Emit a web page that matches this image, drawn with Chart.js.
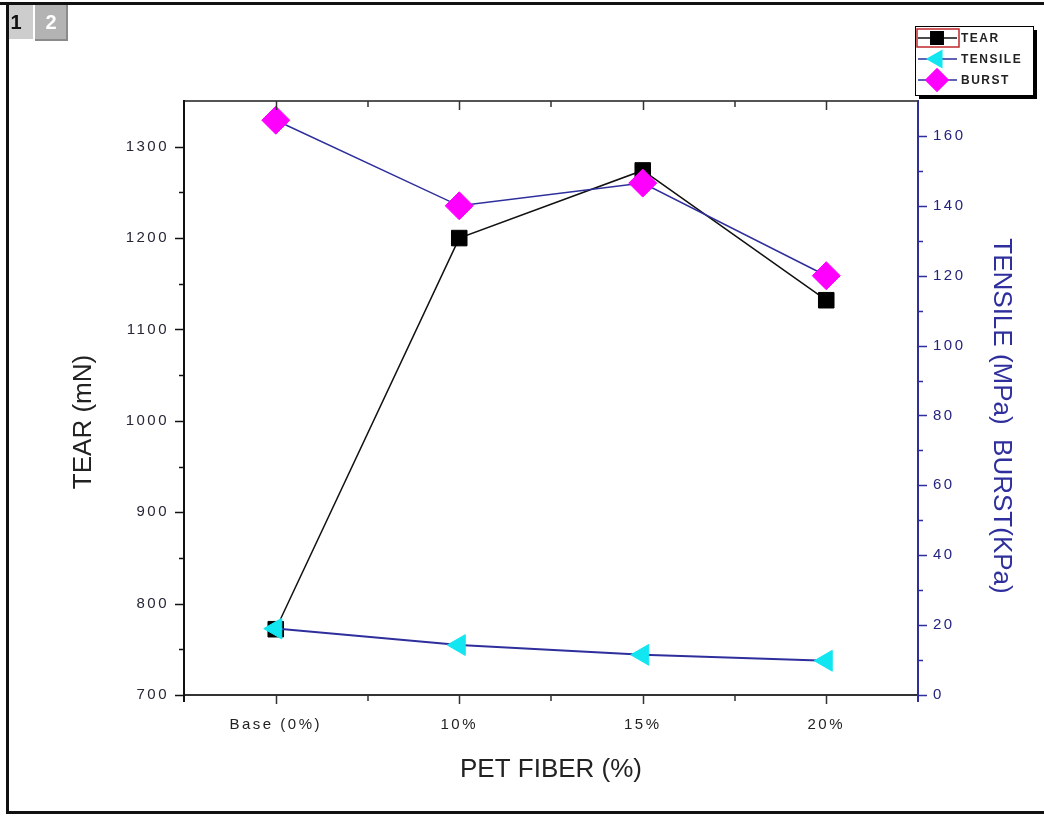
<!DOCTYPE html>
<html>
<head>
<meta charset="utf-8">
<script src="https://cdn.jsdelivr.net/npm/chart.js@4.4.0/dist/chart.umd.min.js"></script>
<style>
    html, body { margin: 0; padding: 0; background: #fff; }
    #wrap { width: 1044px; height: 816px; position: relative; }
</style>
</head>
<body>
<div id="wrap"><canvas id="chart" width="1044" height="816"></canvas></div>
<script>
// data
var fiberLabels = ['Base (0%)', '10%', '15%', '20%'];
var tearValues = [772, 1200, 1274, 1132];        // mN, left axis
var tensileValues = [19, 14.3, 11.5, 9.8];       // MPa, right axis
var burstValues = [164.5, 140, 146.5, 120];      // KPa, right axis
var legendNames = ['TEAR', 'TENSILE', 'BURST'];

var NAVY = '#2e2e9c';
var CYAN = '#12e6f0';
var MAGENTA = '#ff00ff';
var FONT = "'Liberation Sans', Arial, sans-serif";

// no thousands separator on the ticks
function plainTick(value) {
    return String(value);
}

// frame, axes, ticks, titles, legend
var decorations = {
    id: 'decorations',
    beforeDraw: function(chart) {
        var ctx = chart.ctx;
        ctx.save();
        ctx.fillStyle = '#fff';
        ctx.fillRect(0, 0, chart.width, chart.height);

        // outer frame
        ctx.fillStyle = '#111';
        ctx.fillRect(0, 2, 1044, 3);
        ctx.fillRect(6, 2, 3, 812);
        ctx.fillRect(6, 811, 1038, 3);

        // tabs
        ctx.fillStyle = '#cdcdcd';
        ctx.fillRect(9, 5, 24, 34);
        ctx.fillStyle = '#111';
        ctx.font = 'bold 20px ' + FONT;
        ctx.textAlign = 'center';
        ctx.textBaseline = 'middle';
        ctx.fillText('1', 16, 23);
        ctx.fillStyle = '#b3b3b3';
        ctx.fillRect(35, 5, 33, 36);
        ctx.fillStyle = '#8a8a8a';
        ctx.fillRect(35, 39, 33, 2);
        ctx.fillRect(66, 5, 2, 36);
        ctx.fillStyle = '#fff';
        ctx.fillText('2', 51, 23);
        ctx.restore();

        ctx.letterSpacing = '2.5px';
    },
    afterDraw: function(chart) {
        var ctx = chart.ctx;
        var a = chart.chartArea;
        var x = chart.scales.x, y = chart.scales.y, y1 = chart.scales.y1;
        ctx.letterSpacing = '0px';
        ctx.save();

        // top border
        ctx.fillStyle = '#555';
        ctx.fillRect(a.left, a.top - 1, a.right - a.left, 2);
        // bottom axis
        ctx.fillStyle = '#333';
        ctx.fillRect(a.left, a.bottom - 1, a.right - a.left, 2);
        // left axis
        ctx.fillStyle = '#111';
        ctx.fillRect(a.left - 1, a.top - 1, 2, a.bottom - a.top + 8);
        // right axis
        ctx.fillStyle = NAVY;
        ctx.fillRect(a.right - 1, a.top - 1, 2, a.bottom - a.top + 8);

        ctx.lineWidth = 1.5;
        var v, p, i;
        // left ticks
        ctx.strokeStyle = '#111';
        ctx.beginPath();
        for (v = 700; v <= 1300; v += 50) {
            p = Math.round(y.getPixelForValue(v)) + 0.5;
            ctx.moveTo(a.left, p);
            ctx.lineTo(a.left - (v % 100 === 0 ? 9 : 5), p);
        }
        ctx.stroke();
        // right ticks
        ctx.strokeStyle = NAVY;
        ctx.beginPath();
        for (v = 0; v <= 160; v += 10) {
            p = Math.round(y1.getPixelForValue(v)) + 0.5;
            ctx.moveTo(a.right, p);
            ctx.lineTo(a.right + (v % 20 === 0 ? 9 : 5), p);
        }
        ctx.stroke();
        // bottom and top ticks
        ctx.strokeStyle = '#333';
        ctx.beginPath();
        var half = (x.getPixelForValue(1) - x.getPixelForValue(0)) / 2;
        for (i = 0; i < fiberLabels.length; i++) {
            p = Math.round(x.getPixelForValue(i)) + 0.5;
            ctx.moveTo(p, a.bottom); ctx.lineTo(p, a.bottom + 9);
            ctx.moveTo(p, a.top); ctx.lineTo(p, a.top + 9);
            if (i < fiberLabels.length - 1) {
                var q = Math.round(p + half);
                ctx.moveTo(q, a.bottom); ctx.lineTo(q, a.bottom + 6);
                ctx.moveTo(q, a.top); ctx.lineTo(q, a.top + 6);
            }
        }
        ctx.stroke();

        // axis titles
        ctx.font = '26px ' + FONT;
        ctx.textAlign = 'center';
        ctx.textBaseline = 'middle';
        ctx.fillStyle = '#222';
        ctx.fillText('PET FIBER (%)', (a.left + a.right) / 2, 770);

        ctx.save();
        ctx.translate(84, 422);
        ctx.rotate(-Math.PI / 2);
        ctx.fillText('TEAR (mN)', 0, 0);
        ctx.restore();

        ctx.save();
        ctx.translate(1001, 416);
        ctx.rotate(Math.PI / 2);
        ctx.fillStyle = NAVY;
        ctx.fillText('TENSILE (MPa)  BURST(KPa)', 0, 0);
        ctx.restore();

        // legend box with shadow
        var lx = 915, ly = 26, lw = 118, lh = 69;
        ctx.fillStyle = '#000';
        ctx.fillRect(lx + 4, ly + 4, lw, lh);
        ctx.fillStyle = '#fff';
        ctx.fillRect(lx, ly, lw, lh);
        ctx.strokeStyle = '#000';
        ctx.lineWidth = 1;
        ctx.strokeRect(lx + 0.5, ly + 0.5, lw, lh);

        var sets = chart.data.datasets;
        ctx.font = 'bold 12px ' + FONT;
        ctx.letterSpacing = '1.5px';
        ctx.textAlign = 'left';
        for (i = 0; i < legendNames.length; i++) {
            var ds = sets[i];
            var ry = ly + 12 + i * 21;
            ctx.strokeStyle = ds.borderColor;
            ctx.lineWidth = 1.5;
            ctx.beginPath();
            ctx.moveTo(lx + 3, ry); ctx.lineTo(lx + 42, ry);
            ctx.stroke();
            ctx.fillStyle = ds.pointBackgroundColor;
            ctx.strokeStyle = ds.pointBackgroundColor;
            Chart.helpers.drawPoint(ctx, {
                pointStyle: ds.pointStyle,
                rotation: ds.pointRotation || 0,
                radius: ds.pointRadius * 0.8,
                borderWidth: 1
            }, lx + 22, ry);
            ctx.fillStyle = '#222';
            ctx.fillText(legendNames[i], lx + 46, ry + 1);
        }
        ctx.letterSpacing = '0px';
        ctx.strokeStyle = '#c0282c';
        ctx.lineWidth = 1.5;
        ctx.strokeRect(lx + 2, ly + 3, 42, 18);
        ctx.restore();
    }
};

var ctx = document.getElementById('chart').getContext('2d');
var chart = new Chart(ctx, {
    type: 'line',
    data: {
        labels: fiberLabels,
        datasets: [
            {
                label: legendNames[0],
                data: tearValues,
                yAxisID: 'y',
                borderColor: '#111',
                borderWidth: 1.5,
                pointStyle: 'rect',
                pointRadius: 11,
                pointBackgroundColor: '#000',
                pointBorderColor: '#000',
                pointBorderWidth: 1,
                order: 3
            },
            {
                label: legendNames[1],
                data: tensileValues,
                yAxisID: 'y1',
                borderColor: NAVY,
                borderWidth: 2,
                pointStyle: 'triangle',
                pointRotation: -90,
                pointRadius: 12,
                pointBackgroundColor: CYAN,
                pointBorderColor: CYAN,
                pointBorderWidth: 1,
                order: 2
            },
            {
                label: legendNames[2],
                data: burstValues,
                yAxisID: 'y1',
                borderColor: NAVY,
                borderWidth: 1.5,
                pointStyle: 'rectRot',
                pointRadius: 14,
                pointBackgroundColor: MAGENTA,
                pointBorderColor: MAGENTA,
                pointBorderWidth: 1,
                order: 1
            }
        ]
    },
    options: {
        responsive: false,
        animation: false,
        events: [],
        layout: { padding: { top: 101, left: 0, right: 0, bottom: 0 } },
        plugins: {
            legend: { display: false },
            tooltip: { enabled: false }
        },
        scales: {
            x: {
                type: 'category',
                offset: true,
                grid: { display: false, drawTicks: false },
                border: { display: false },
                ticks: {
                    padding: 21,
                    autoSkip: false,
                    maxRotation: 0,
                    color: '#222',
                    font: { family: FONT, size: 15 }
                },
                afterFit: function(s) { s.height = 121; }
            },
            y: {
                position: 'left',
                min: 700,
                max: 1350,
                grid: { display: false, drawTicks: false },
                border: { display: false },
                ticks: {
                    stepSize: 100,
                    includeBounds: false,
                    padding: 15,
                    color: '#262636',
                    font: { family: FONT, size: 15 },
                    callback: plainTick
                },
                afterFit: function(s) { s.width = 184; }
            },
            y1: {
                position: 'right',
                min: 0,
                max: 170,
                grid: { display: false, drawTicks: false },
                border: { display: false },
                ticks: {
                    stepSize: 20,
                    includeBounds: false,
                    padding: 15,
                    color: '#23237f',
                    font: { family: FONT, size: 15 },
                    callback: plainTick
                },
                afterFit: function(s) { s.width = 126; }
            }
        }
    },
    plugins: [decorations]
});
</script>
</body>
</html>
